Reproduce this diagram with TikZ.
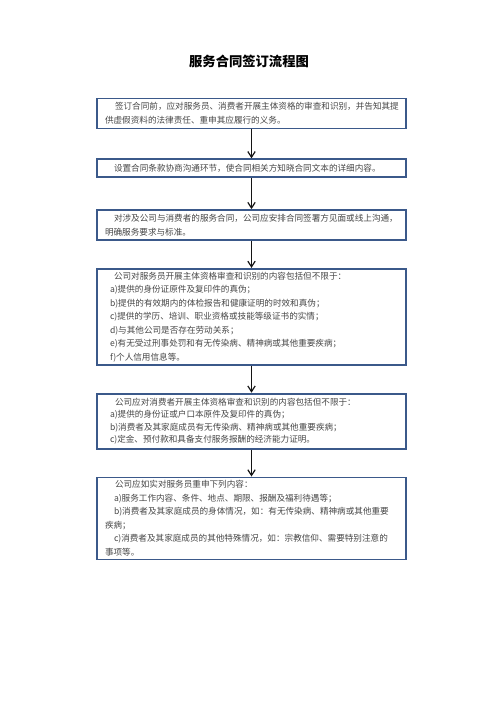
\documentclass[tikz,border=0pt]{standalone}
\usepackage{fontspec}
\setmainfont{Noto Sans CJK SC}
\usepackage{xcolor}
\usepackage{tikz}
\usetikzlibrary{arrows.meta, positioning}
\definecolor{boxBorder}{RGB}{59,89,138}
\definecolor{boxText}{RGB}{70,70,70}
\definecolor{lineMain}{RGB}{20,20,20}
\tikzset{
  stageNode/.style={
    draw=boxBorder,
    line width=1.8pt,
    align=left,
    text width=293pt,
    inner xsep=8pt,
    inner ysep=1pt,
    text=boxText,
    font=\fontsize{8.6}{13.5}\selectfont
  },
  titleNode/.style={font=\fontsize{13.3}{16}\selectfont\bfseries, text=black},
  stageFlow/.style={-{Straight Barb[length=2mm,width=2.6mm]}, line width=1.2pt, draw=lineMain}
}

\begin{document}
\begin{tikzpicture}[x=1pt, y=-1pt]
  \useasboundingbox (0,0) rectangle (496,702);

  \node[titleNode] (title) at (249,61) {服务合同签订流程图};

  \node[stageNode, anchor=north, minimum height=30pt] (verify) at (251.5,97.5)
    {\hspace*{10pt}签订合同前，应对服务员、消费者开展主体资格的审查和识别，并告知其提\\供虚假资料的法律责任、重申其应履行的义务。};
  \node[stageNode, below=29pt of verify, minimum height=18pt] (consult)
    {\hspace*{9pt}设置合同条款协商沟通环节，使合同相关方知晓合同文本的详细内容。};
  \node[stageNode, below=31pt of consult, minimum height=30pt] (meet)
    {\hspace*{9pt}对涉及公司与消费者的服务合同，公司应安排合同签署方见面或线上沟通，\\明确服务要求与标准。};
  \node[stageNode, below=27pt of meet, minimum height=96pt] (workerCheck)
    {\hspace*{9pt}公司对服务员开展主体资格审查和识别的内容包括但不限于：\\
     \hspace*{5pt}a)提供的身份证原件及复印件的真伪；\\
     \hspace*{5pt}b)提供的有效期内的体检报告和健康证明的时效和真伪；\\
     \hspace*{5pt}c)提供的学历、培训、职业资格或技能等级证书的实情；\\
     \hspace*{5pt}d)与其他公司是否存在劳动关系；\\
     \hspace*{5pt}e)有无受过刑事处罚和有无传染病、精神病或其他重要疾病；\\
     \hspace*{5pt}f)个人信用信息等。};
  \node[stageNode, below=27pt of workerCheck, minimum height=55pt,
        font=\fontsize{8.6}{12.4}\selectfont] (clientCheck)
    {\hspace*{10pt}公司应对消费者开展主体资格审查和识别的内容包括但不限于：\\
     \hspace*{5pt}a)提供的身份证或户口本原件及复印件的真伪；\\
     \hspace*{5pt}b)消费者及其家庭成员有无传染病、精神病或其他重要疾病；\\
     \hspace*{5pt}c)定金、预付款和具备支付服务报酬的经济能力证明。};
  \node[stageNode, below=27pt of clientCheck, minimum height=82pt] (restate)
    {\hspace*{10pt}公司应如实对服务员重申下列内容：\\
     \hspace*{9pt}a)服务工作内容、条件、地点、期限、报酬及福利待遇等；\\
     \hspace*{9pt}b)消费者及其家庭成员的身体情况，如：有无传染病、精神病或其他重要\\
     疾病；\\
     \hspace*{9pt}c)消费者及其家庭成员的其他特殊情况，如：宗教信仰、需要特别注意的\\
     事项等。};

  \draw[stageFlow] (verify) -- (consult);
  \draw[stageFlow] (consult) -- (meet);
  \draw[stageFlow] (meet) -- (workerCheck);
  \draw[stageFlow] (workerCheck) -- (clientCheck);
  \draw[stageFlow] (clientCheck) -- (restate);
\end{tikzpicture}
\end{document}
